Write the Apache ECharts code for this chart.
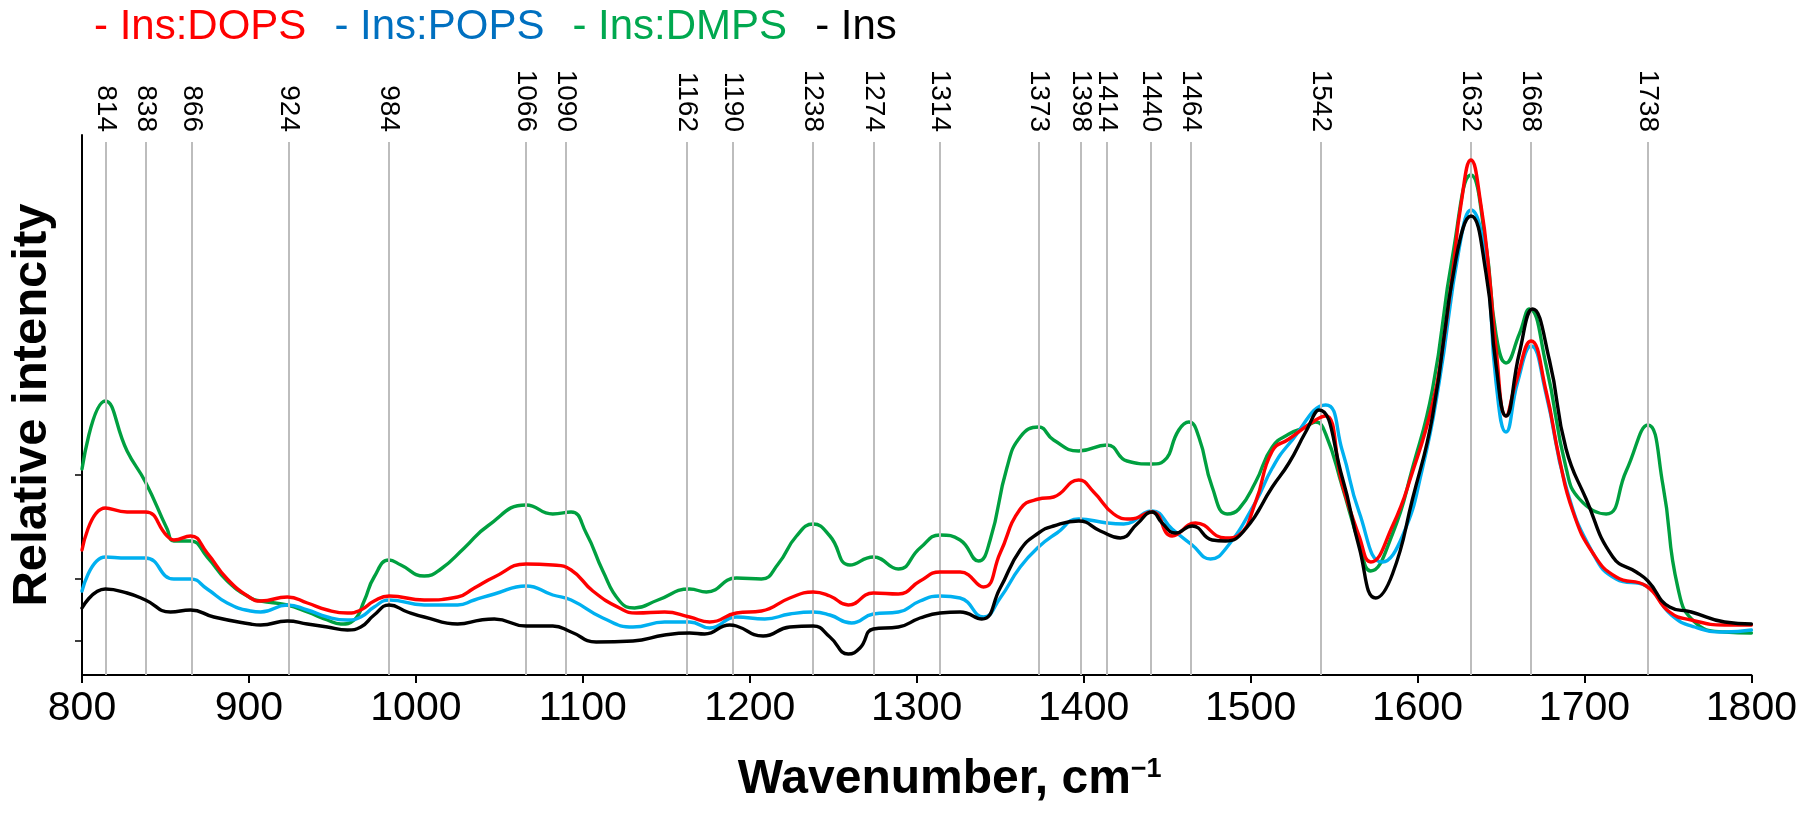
<!DOCTYPE html>
<html>
<head>
<meta charset="utf-8">
<style>
  html, body { margin: 0; padding: 0; background: #ffffff; }
  #chart { width: 1800px; height: 813px; }
</style>
<script src="https://cdn.jsdelivr.net/npm/echarts@6.0.0/dist/echarts.min.js"></script>
</head>
<body>
<div id="chart"></div>
<script>
// ---- data (wavenumber, cm-1 / relative intensity, arbitrary units) ----
const peakPositions = [814, 838, 866, 924, 984, 1066, 1090, 1162, 1190, 1238, 1274, 1314, 1373, 1398, 1414, 1440, 1464, 1542, 1632, 1668, 1738];
const yTickValues = [34, 96, 200];

const dopsX = [800,814,827,838,851,855,865,875,887,901,907,923,935,947,959,967,975,984,1005,1025,1035,1047,1066,1082,1093,1106,1122,1132,1149,1164,1176,1192,1207,1224,1238,1248,1259,1274,1289,1302,1314,1326,1340,1350,1362,1373,1382,1397,1406,1418,1428,1441,1453,1467,1485,1493,1503,1513,1523,1539,1545,1555,1565,1572,1585,1597,1609,1615,1621,1626,1632,1638,1643,1647,1653,1659,1668,1677,1685,1693,1705,1719,1737,1751,1764,1784,1800];
const dopsY = [125,167,163,163,139,135,139,122,96,77,74,78,72,65,62,65,74,79,75,78,87,98,111,110,105,84,67,62,63,58,53,62,64,77,83,79,70,82,81,94,103,103,88,122,166,176,178,195,183,161,156,163,139,152,137,140,173,224,236,255,259,190,139,113,149,203,271,327,402,470,515,470,400,327,259,293,334,284,216,164,122,98,89,63,55,50,50];

const popsX = [800,814,827,838,855,865,875,887,901,907,923,935,947,959,967,975,984,1005,1025,1035,1047,1066,1082,1093,1112,1130,1149,1164,1176,1192,1209,1224,1238,1248,1261,1274,1289,1302,1314,1326,1340,1350,1362,1373,1384,1397,1414,1424,1441,1453,1465,1476,1485,1503,1513,1523,1545,1555,1565,1579,1591,1603,1613,1625,1632,1641,1647,1653,1660,1668,1677,1689,1705,1719,1737,1752,1766,1784,1800];
const popsY = [84,118,117,117,96,96,86,72,64,63,70,65,58,55,58,68,75,70,70,75,81,89,80,75,57,48,53,53,47,58,56,61,63,60,52,61,63,74,79,77,58,77,108,128,142,156,152,151,164,146,130,116,126,173,207,231,270,224,163,113,139,207,293,427,465,413,293,243,293,329,281,188,122,96,89,60,48,43,45];

const dmpsX = [800,814,827,838,851,855,865,875,887,901,907,923,935,947,955,963,969,975,984,991,1005,1015,1029,1043,1066,1082,1093,1102,1112,1122,1131,1145,1164,1174,1192,1207,1217,1228,1238,1248,1260,1274,1289,1302,1314,1326,1337,1344,1354,1362,1373,1382,1397,1414,1426,1441,1448,1457,1463,1469,1477,1486,1493,1503,1513,1523,1533,1539,1545,1555,1565,1572,1585,1597,1609,1621,1632,1641,1647,1653,1661,1667,1677,1689,1697,1713,1725,1738,1747,1756,1766,1784,1800];
const dmpsY = [206,274,224,193,146,134,134,118,94,77,74,70,63,55,51,55,74,98,115,110,99,106,127,149,170,161,163,142,104,74,67,75,86,83,97,96,111,139,151,139,110,118,106,127,140,135,114,135,207,238,248,235,224,230,214,211,214,245,253,238,188,161,166,193,228,241,248,253,241,188,132,104,141,207,286,419,500,430,341,312,341,366,310,207,176,161,204,250,190,87,53,43,42];

const insX = [800,814,827,838,853,865,879,901,907,923,935,947,959,967,975,984,995,1005,1025,1039,1047,1066,1082,1093,1108,1130,1149,1164,1173,1188,1192,1208,1224,1238,1248,1259,1266,1274,1289,1302,1314,1326,1339,1350,1362,1373,1382,1397,1410,1422,1432,1441,1447,1455,1465,1477,1485,1497,1513,1523,1533,1541,1555,1565,1575,1585,1597,1609,1623,1632,1641,1647,1653,1661,1669,1679,1689,1701,1717,1731,1738,1751,1764,1784,1800];
const insY = [67,86,82,75,63,65,58,51,50,54,51,48,45,48,60,70,63,58,51,55,56,49,49,43,33,34,40,42,41,50,49,39,48,49,38,21,27,46,48,57,62,63,56,87,125,142,149,154,144,137,151,163,152,142,149,135,134,146,188,212,243,265,197,128,77,101,176,259,416,459,402,310,259,322,366,315,226,176,118,103,94,68,63,53,51];

// ---- chart ----
const FONT = '"Liberation Sans", Arial, Helvetica, sans-serif';
const zip = (xs, ys) => xs.map((x, i) => [x, ys[i]]);
const plain = v => String(v);

function spectrum(name, xs, ys, color, z) {
  return {
    name: name,
    type: 'line',
    data: zip(xs, ys),
    showSymbol: false,
    symbol: 'none',
    smooth: 0.5,
    z: z,
    lineStyle: { color: color, width: 3.4, join: 'round', cap: 'round' },
    itemStyle: { color: color }
  };
}

const chart = echarts.init(document.getElementById('chart'), null, { renderer: 'canvas' });
chart.setOption({
  animation: false,
  backgroundColor: '#ffffff',
  grid: { left: 78, right: 39, top: 135, bottom: 138, containLabel: false },
  legend: {
    left: 84,
    top: 1,
    icon: 'none',
    itemWidth: 0,
    itemHeight: 10,
    itemGap: 23,
    selectedMode: false,
    formatter: '- {name}',
    textStyle: { fontSize: 42, fontFamily: FONT },
    data: [
      { name: 'Ins:DOPS', textStyle: { color: '#ff0000' } },
      { name: 'Ins:POPS', textStyle: { color: '#0070c0' } },
      { name: 'Ins:DMPS', textStyle: { color: '#00a84f' } },
      { name: 'Ins', textStyle: { color: '#000000' } }
    ]
  },
  xAxis: [
    {
      type: 'value',
      min: 800,
      max: 1800,
      interval: 100,
      position: 'bottom',
      axisLine: { show: true, lineStyle: { color: '#000', width: 2 } },
      axisTick: { show: true, length: 8, lineStyle: { color: '#000', width: 2 } },
      splitLine: { show: false },
      axisLabel: { fontSize: 41, color: '#000', fontFamily: FONT, margin: 13, formatter: plain },
      name: '{a|Wavenumber, cm}{s|−1}',
      nameLocation: 'middle',
      nameGap: 81,
      nameTextStyle: {
        padding: [0, 0, 0, 66],
        rich: {
          a: { fontSize: 48, fontWeight: 'bold', color: '#000', fontFamily: FONT },
          s: { fontSize: 27, fontWeight: 'bold', color: '#000', fontFamily: FONT, verticalAlign: 'top' }
        }
      }
    },
    {
      type: 'value',
      min: 800,
      max: 1800,
      position: 'top',
      gridIndex: 0,
      axisLine: { show: false },
      axisTick: { show: false },
      splitLine: { show: false },
      axisLabel: {
        customValues: peakPositions,
        formatter: plain,
        rotate: 90,
        fontSize: 28,
        color: '#000',
        fontFamily: FONT,
        margin: 3
      }
    }
  ],
  yAxis: {
    type: 'value',
    min: 0,
    max: 540,
    axisLine: { show: true, lineStyle: { color: '#000', width: 2 } },
    axisTick: { show: true, customValues: yTickValues, length: 7, lineStyle: { color: '#000', width: 1.5 } },
    axisLabel: { show: false },
    splitLine: { show: false },
    name: 'Relative intencity',
    nameLocation: 'middle',
    nameGap: 25,
    nameTextStyle: { fontSize: 49, fontWeight: 'bold', color: '#000', fontFamily: FONT }
  },
  series: [
    {
      name: 'peak lines',
      type: 'line',
      data: [],
      z: 1,
      markLine: {
        silent: true,
        animation: false,
        symbol: ['none', 'none'],
        label: { show: false },
        emphasis: { disabled: true },
        lineStyle: { color: '#bdbdbd', width: 2, type: 'solid' },
        data: peakPositions.map(p => [{ coord: [p, 0] }, { coord: [p, 533] }])
      }
    },
    spectrum('Ins:DMPS', dmpsX, dmpsY, '#00a040', 3),
    spectrum('Ins:POPS', popsX, popsY, '#00b0f0', 4),
    spectrum('Ins:DOPS', dopsX, dopsY, '#ff0000', 5),
    spectrum('Ins', insX, insY, '#000000', 6)
  ]
});
</script>
</body>
</html>
